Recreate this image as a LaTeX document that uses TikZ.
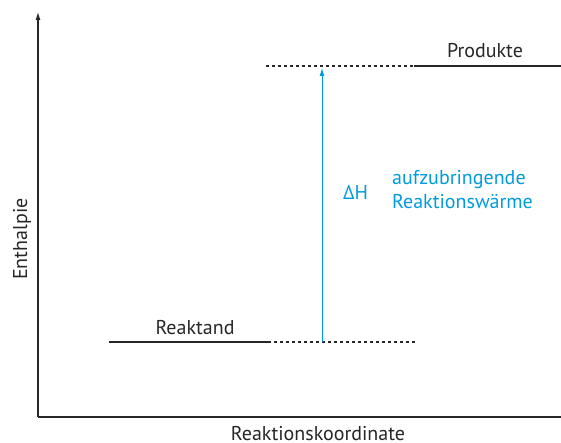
\documentclass[tikz,border=0pt]{standalone}
\usepackage{fontspec}
\setmainfont{PT Sans}
\usetikzlibrary{arrows.meta}
\definecolor{dhblue}{RGB}{0,155,223}
\begin{document}
\begin{tikzpicture}[x=1pt,y=-1pt,
  axis/.style={line width=1.1pt,black!85},
  level/.style={line width=2.2pt,black!85},
  dashlevel/.style={line width=1.2pt,black!85,dash pattern=on 3pt off 3pt},
  lbl/.style={font=\fontsize{20}{24}\selectfont,text=black!85,inner sep=0pt,anchor=base},
  bluelbl/.style={font=\fontsize{20}{24}\selectfont,text=dhblue,inner sep=0pt,align=left}]
\useasboundingbox (0,0) rectangle (561,443);
\coordinate (origin) at (38,417);
\coordinate (ytop) at (38,12);
\coordinate (xend) at (561,417);
\draw[axis,-{Latex[length=8pt,width=5pt]}] (origin) -- (ytop);
\draw[axis] (origin) -- (xend);
% Reaktand
\coordinate (r0) at (109,342);
\coordinate (r1) at (268,342);
\coordinate (r2) at (416,342);
\draw[level] (r0) -- (r1);
\draw[dashlevel] (r1) -- (r2);
% Produkte
\coordinate (p0) at (266,66);
\coordinate (p1) at (414,66);
\coordinate (p2) at (561,66);
\draw[dashlevel] (p0) -- (p1);
\draw[level] (p1) -- (p2);
% arrow
\coordinate (a0) at (322,342);
\coordinate (a1) at (322,68);
\draw[dhblue,line width=1pt,-{Latex[length=8pt,width=5pt]}] (a0) -- (a1);
% labels
\node[lbl] (prod) at (485,57.5) {Produkte};
\node[lbl] (reak) at (195,334.5) {Reaktand};
\node[bluelbl,anchor=base west] (dh) at (343,200) {ΔH};
\node[bluelbl,anchor=base west] (w1) at (392,184.5) {aufzubringende};
\node[bluelbl,anchor=base west] (w2) at (392,208.5) {Reaktionswärme};
\node[lbl,rotate=90] (enth) at (27,239) {Enthalpie};
\node[lbl,text depth=0pt] (rk) at (318,440) {Reaktionskoordinate};
\end{tikzpicture}
\end{document}
